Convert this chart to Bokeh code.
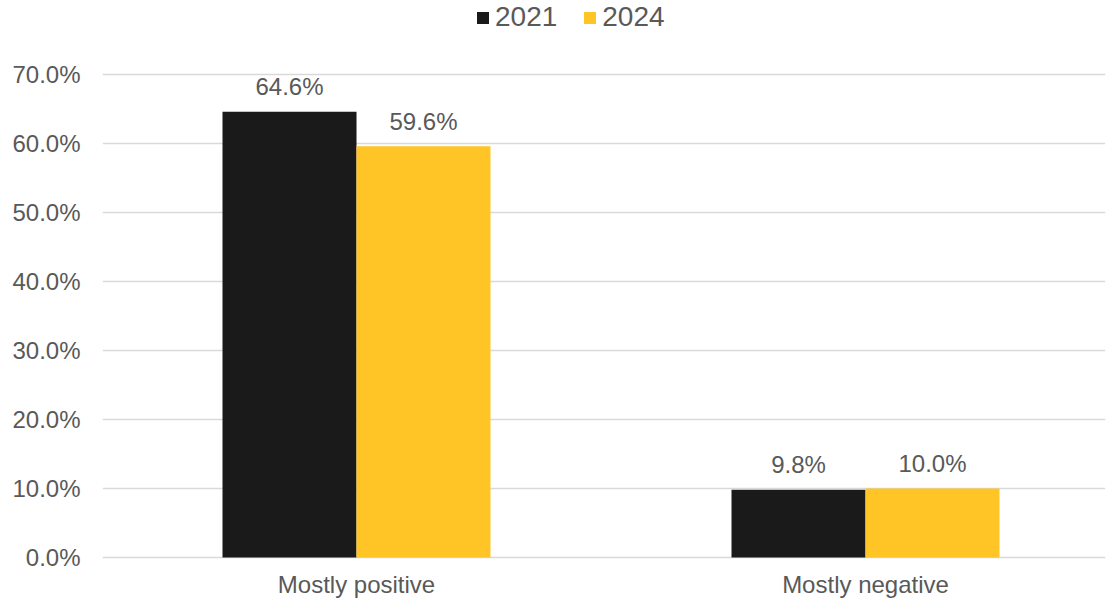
from bokeh.plotting import figure
from bokeh.models import ColumnDataSource, Legend, LegendItem, FixedTicker, NumeralTickFormatter, Range1d
from bokeh.transform import dodge
from bokeh.core.properties import value
from bokeh.embed import file_html
from bokeh.resources import INLINE

categories = ["Mostly positive", "Mostly negative"]
series_names = ["2021", "2024"]
values_2021 = [0.646, 0.098]
values_2024 = [0.596, 0.100]
y_ticks = [0.0, 0.1, 0.2, 0.3, 0.4, 0.5, 0.6, 0.7]

FONT = "Liberation Sans"
TXT = "#595959"
colors = ["#1a1a1a", "#ffc425"]

xs = list(range(len(categories)))
src = ColumnDataSource(dict(
    x=xs,
    v2021=values_2021,
    v2024=values_2024,
    l2021=[f"{v*100:.1f}%" for v in values_2021],
    l2024=[f"{v*100:.1f}%" for v in values_2024],
))

# frame spans 0..562px; 0% sits at 558px and 70% at 74px
PX = 0.7 / 484
p = figure(width=1106, height=600, output_backend="svg", toolbar_location=None,
           x_range=Range1d(-0.499, 1.4715), y_range=Range1d(-4 * PX, 0.7 + 74 * PX),
           min_border_left=102, min_border_right=1, min_border_top=0, min_border_bottom=38)
p.outline_line_color = None
p.background_fill_color = "white"

bw = 0.2633
off = 0.1316
r1 = p.vbar(x=dodge("x", -off), top="v2021", bottom=0, width=bw, source=src, color=colors[0], line_color=None)
r2 = p.vbar(x=dodge("x", off), top="v2024", bottom=0, width=bw, source=src, color=colors[1], line_color=None)

for field, lab, d in [("v2021", "l2021", -off), ("v2024", "l2024", off)]:
    p.text(x=dodge("x", d), y=field, text=lab, source=src, text_align="center",
           text_baseline="middle", y_offset=-25, text_color=TXT,
           text_font=value(FONT), text_font_size="24px")

# axes
p.xaxis.ticker = FixedTicker(ticks=xs)
p.xaxis.major_label_overrides = {i: c for i, c in enumerate(categories)}
p.xaxis.axis_line_color = None
p.xaxis.major_tick_line_color = None
p.xaxis.minor_tick_line_color = None
p.xaxis.major_tick_out = 0
p.xaxis.major_label_text_font = FONT
p.xaxis.major_label_text_font_size = "24px"
p.xaxis.major_label_text_color = TXT
p.xaxis.major_label_standoff = 9
p.xgrid.grid_line_color = None

p.yaxis.ticker = FixedTicker(ticks=y_ticks)
p.yaxis.formatter = NumeralTickFormatter(format="0.0%")
p.yaxis.axis_line_color = None
p.yaxis.major_tick_line_color = None
p.yaxis.minor_tick_line_color = None
p.yaxis.major_tick_out = 0
p.yaxis.major_label_text_font = FONT
p.yaxis.major_label_text_font_size = "24px"
p.yaxis.major_label_text_color = TXT
p.yaxis.major_label_standoff = 22
p.ygrid.grid_line_color = "#d9d9d9"
p.ygrid.grid_line_width = 1.5

legend = Legend(items=[LegendItem(label=series_names[0], renderers=[r1]),
                       LegendItem(label=series_names[1], renderers=[r2])],
                orientation="horizontal", location=(373, 528),
                label_text_font=FONT, label_text_font_size="28px", label_text_color=TXT,
                glyph_width=15, glyph_height=15, label_standoff=5, spacing=25,
                padding=0, margin=0, border_line_color=None, background_fill_alpha=0)
p.add_layout(legend, "center")

open("out.html", "w").write(file_html(p, INLINE))
